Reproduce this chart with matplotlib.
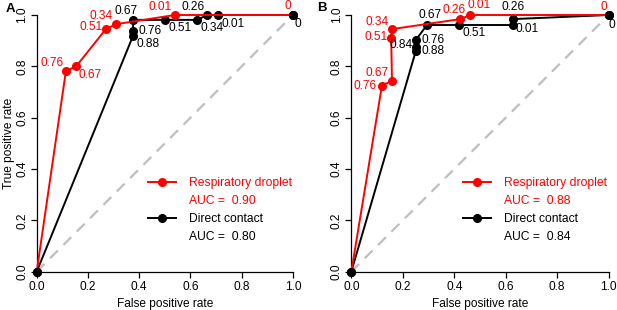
import matplotlib
matplotlib.use("Agg")
import matplotlib.pyplot as plt
from matplotlib.lines import Line2D

plt.rcParams['font.family'] = ['Liberation Sans', 'DejaVu Sans']

# ---- data ----
# Panel A
a_resp_fpr = [0.0, 0.114, 0.154, 0.269, 0.308, 0.539, 1.0]
a_resp_tpr = [0.0, 0.782, 0.800, 0.944, 0.964, 1.000, 1.0]
a_resp_cut = ["", "0.76", "0.67", "0.51", "0.34", "0.01", "0"]
a_resp_off = [None, (-14, 8), (14, -9), (-15, 2), (-15, 8), (-15, 8), (-5, 9)]

a_cont_fpr = [0.0, 0.376, 0.376, 0.376, 0.500, 0.626, 0.665, 0.708, 1.0]
a_cont_tpr = [0.0, 0.919, 0.938, 0.981, 0.981, 0.981, 1.000, 1.000, 1.0]
a_cont_cut = ["", "0.88", "0.76", "0.67", "0.51", "0.34", "0.26", "0.01", "0"]
a_cont_off = [None, (15, -8), (17, 0), (-7, 9), (15, -8), (15, -8), (-14, 8), (15, -9), (5, -9)]

a_auc_resp = 0.90
a_auc_cont = 0.80

# Panel B
b_resp_fpr = [0.0, 0.119, 0.158, 0.155, 0.158, 0.424, 0.462, 1.0]
b_resp_tpr = [0.0, 0.725, 0.744, 0.909, 0.945, 0.984, 1.000, 1.0]
b_resp_cut = ["", "0.76", "0.67", "0.51", "0.34", "0.26", "0.01", "0"]
b_resp_off = [None, (-17, 0), (-15, 8), (-15, 1), (-15, 7), (-6, 9), (9, 10), (-5, 8)]

b_cont_fpr = [0.0, 0.251, 0.251, 0.251, 0.294, 0.420, 0.627, 0.627, 1.0]
b_cont_tpr = [0.0, 0.861, 0.877, 0.903, 0.961, 0.961, 0.961, 0.984, 1.0]
b_cont_cut = ["", "0.88", "0.84", "0.76", "0.67", "0.51", "0.01", "0.26", "0"]
b_cont_off = [None, (17, 0), (-15, 2), (17, 0), (3, 10), (15, -8), (14, -4), (0, 12), (3, -10)]

b_auc_resp = 0.88
b_auc_cont = 0.84

ticks = [0.0, 0.2, 0.4, 0.6, 0.8, 1.0]
tick_labels = ["0.0", "0.2", "0.4", "0.6", "0.8", "1.0"]

RED = "#ff0000"
BLACK = "black"
FS = 8.6
LFS = 8.7

fig = plt.figure(figsize=(6.17, 3.10), dpi=100)
axA = fig.add_axes([36.7 / 617, 38.3 / 310, 256.3 / 617, 256.7 / 310])
axB = fig.add_axes([351.3 / 617, 38.3 / 310, 257.4 / 617, 256.7 / 310])


def draw(ax, rf, rt, rc, ro, cf, ct, cc, co, auc_r, auc_c, ylabel):
    ax.set_xlim(0, 1)
    ax.set_ylim(0, 1)
    ax.axline((0, 0), slope=1, color="#bebebe", lw=1.6, dashes=(5, 3.5), zorder=1)
    ax.plot(cf, ct, color=BLACK, lw=1.4, marker="o", ms=5.5, clip_on=False, zorder=3)
    ax.plot(rf, rt, color=RED, lw=1.4, marker="o", ms=5.5, clip_on=False, zorder=4)
    ax.plot(cf[:1], ct[:1], color=BLACK, marker="o", ms=5.5, ls="none", clip_on=False, zorder=5)
    ax.plot(cf[-1:], ct[-1:], color=BLACK, marker="o", ms=5.5, ls="none", clip_on=False, zorder=5)
    for x, y, s, o in zip(rf, rt, rc, ro):
        if s:
            ax.annotate(s, (x, y), xytext=o, textcoords="offset pixels",
                        ha="center", va="center", color=RED, fontsize=FS,
                        annotation_clip=False, zorder=6)
    for x, y, s, o in zip(cf, ct, cc, co):
        if s:
            ax.annotate(s, (x, y), xytext=o, textcoords="offset pixels",
                        ha="center", va="center", color=BLACK, fontsize=FS,
                        annotation_clip=False, zorder=6)
    for sp in ["top", "right"]:
        ax.spines[sp].set_visible(False)
    for sp in ["left", "bottom"]:
        ax.spines[sp].set_linewidth(0.9)
    ax.set_xticks(ticks)
    ax.set_xticklabels(tick_labels, fontsize=FS)
    ax.set_yticks(ticks)
    ax.set_yticklabels(tick_labels, fontsize=FS, rotation=90, va="center")
    ax.tick_params(axis="x", length=4, width=0.9, pad=3)
    ax.tick_params(axis="y", length=4, width=0.9, pad=2)
    ax.set_xlabel("False positive rate", fontsize=FS, labelpad=3)
    if ylabel:
        ax.set_ylabel("True positive rate", fontsize=FS)
        ax.yaxis.set_label_coords(-0.085, 0.5)
    handles = [
        Line2D([], [], color=RED, lw=1.4, marker="o", ms=5.5),
        Line2D([], [], color="none"),
        Line2D([], [], color=BLACK, lw=1.4, marker="o", ms=5.5),
        Line2D([], [], color="none"),
    ]
    labels = ["Respiratory droplet", f"AUC =  {auc_r:.2f}",
              "Direct contact", f"AUC =  {auc_c:.2f}"]
    ax.legend(handles, labels, loc="upper left", bbox_to_anchor=(0.434, 0.368),
              frameon=False, fontsize=LFS, handlelength=2.3, handletextpad=1.1,
              borderpad=0, borderaxespad=0, labelspacing=0.5,
              labelcolor=[RED, RED, BLACK, BLACK])


draw(axA, a_resp_fpr, a_resp_tpr, a_resp_cut, a_resp_off,
     a_cont_fpr, a_cont_tpr, a_cont_cut, a_cont_off, a_auc_resp, a_auc_cont, True)
draw(axB, b_resp_fpr, b_resp_tpr, b_resp_cut, b_resp_off,
     b_cont_fpr, b_cont_tpr, b_cont_cut, b_cont_off, b_auc_resp, b_auc_cont, False)

fig.text(6 / 617, 1 - 9 / 310, "A", fontsize=9.5, fontweight="bold", va="center", ha="left")
fig.text(317 / 617, 1 - 8 / 310, "B", fontsize=9.5, fontweight="bold", va="center", ha="left")

fig.savefig("out.png", dpi=100)
